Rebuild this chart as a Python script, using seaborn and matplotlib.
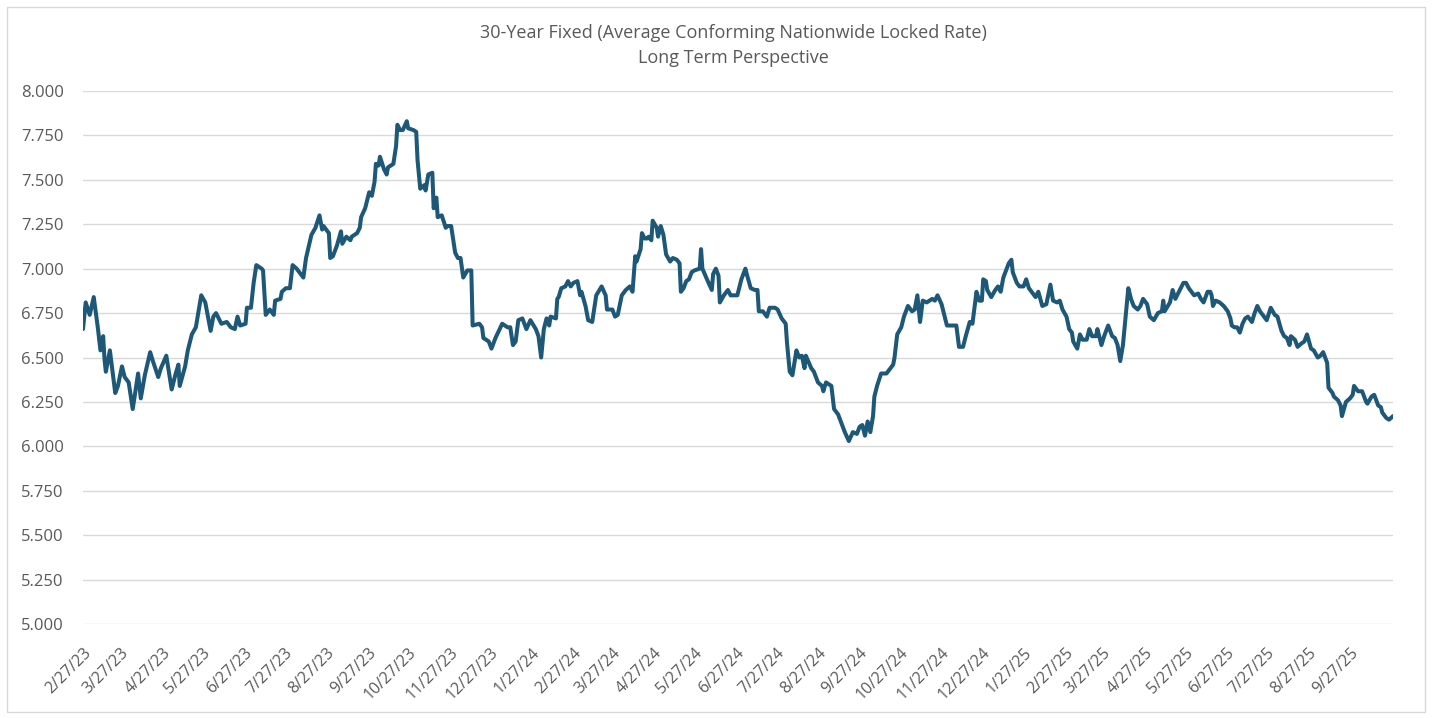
import numpy as np
import pandas as pd
import matplotlib
matplotlib.use("Agg")
import matplotlib.pyplot as plt
from matplotlib.patches import Rectangle
import seaborn as sns

title_line1 = "30-Year Fixed (Average Conforming Nationwide Locked Rate)"
title_line2 = "Long Term Perspective"

start_date = "2023-02-27"
days_after_start = [
    0, 2, 5, 8, 11, 13, 15, 16, 17, 20, 24, 26, 29, 31, 34, 37, 41, 43, 46, 50,
    52, 56, 58, 62, 66, 69, 71, 72, 76, 78, 81, 84, 88, 91, 95, 97, 99, 103, 107, 110,
    113, 115, 117, 121, 122, 125, 127, 129, 133, 134, 136, 139, 142, 143, 147, 148, 151, 154, 156, 159,
    162, 164,
    166, 170, 173, 176, 178, 179, 183, 184, 186, 189, 192, 193, 196, 199, 200, 204, 206, 207, 210, 213,
    215, 217, 218, 220, 221, 224, 226, 227, 231, 233, 234, 236, 238, 241, 242, 246, 248, 249, 251, 254,
    255, 257, 260, 261, 263, 264, 267, 270, 271, 274, 277, 279, 281, 283, 286, 289, 290, 295, 297, 298,
    302, 304, 307, 312, 316, 318, 320, 322, 324,
    327, 330, 333, 337, 339, 341, 343, 345, 347, 348, 352, 353, 354, 356, 359, 361, 363, 365, 368, 370,
    371, 374, 376, 379, 382, 386, 389, 390, 394, 396, 398, 401, 404, 407, 409, 411, 412, 415, 416, 418,
    420, 421, 423, 424, 427, 428, 430, 432, 434, 437, 439, 442, 444, 445, 447, 449, 451, 453, 455, 459,
    460, 461, 465, 468, 469, 471, 473, 474, 477, 480, 482, 487, 490, 493, 494, 497, 500, 502, 503,
    506, 509, 511, 515, 517, 520, 523, 524, 526, 528, 531, 533, 535, 537, 538, 542, 544, 547, 550, 551,
    553, 557, 559, 562, 565, 567, 570, 573, 576, 578, 580, 582, 584, 586, 588, 589, 591, 594, 598, 603,
    604, 606, 609, 611, 614, 617, 619, 621, 623, 625, 628, 632, 634, 636, 639, 641, 643, 647, 650, 652,
    655, 657, 660, 662, 665, 667,
    669, 670, 672, 673, 676, 679, 681, 683, 685, 686, 688, 689, 691, 692, 695, 697, 700, 702, 704, 707,
    709, 711, 714, 717, 720, 722, 725, 727, 729, 732, 734, 736, 737, 740, 742, 744, 747, 749, 751, 754,
    755, 758, 760, 763, 766, 768, 770, 772, 774, 776, 778, 780, 782, 785, 787, 789, 792, 794, 797, 800,
    803, 804, 805, 809, 811, 813, 815, 819,
    821, 823, 827, 830, 832, 834, 837, 839, 840, 841, 843, 846, 849, 852, 854, 855, 857, 859, 861, 863,
    865, 867, 870, 872, 874, 876, 879, 881, 884, 887, 889, 892, 894, 896, 898, 899, 902, 904, 907, 909,
    911, 914, 916, 919, 921, 923, 926, 927, 930, 931, 934, 936, 937, 940, 943, 945, 946, 949, 952, 955,
    956, 959, 961, 964, 966, 967, 970, 972, 975,
]
rates = [
    6.66, 6.81, 6.74, 6.84, 6.67, 6.54, 6.62, 6.49, 6.42, 6.54, 6.30, 6.34, 6.45, 6.39, 6.36, 6.21, 6.41, 6.27, 6.40, 6.53,
    6.48, 6.39, 6.44, 6.51, 6.32, 6.41, 6.46, 6.34, 6.45, 6.54, 6.63, 6.67, 6.85, 6.81, 6.65, 6.73, 6.75, 6.69, 6.70, 6.67,
    6.66, 6.73, 6.68, 6.69, 6.78, 6.78, 6.92, 7.02, 7.00, 6.99, 6.74, 6.77, 6.74, 6.82, 6.83, 6.87, 6.89, 6.89, 7.02, 7.00,
    6.97, 6.95,
    7.06, 7.19, 7.23, 7.30, 7.22, 7.24, 7.20, 7.06, 7.07, 7.13, 7.21, 7.14, 7.18, 7.16, 7.18, 7.20, 7.23, 7.29, 7.34, 7.43,
    7.41, 7.49, 7.59, 7.58, 7.63, 7.56, 7.53, 7.57, 7.59, 7.69, 7.81, 7.78, 7.78, 7.83, 7.79, 7.78, 7.77, 7.61, 7.45, 7.47,
    7.44, 7.53, 7.54, 7.34, 7.40, 7.29, 7.30, 7.23, 7.24, 7.24, 7.09, 7.06, 7.06, 6.95, 6.99, 6.99, 6.68, 6.69, 6.67, 6.61,
    6.59, 6.55, 6.61, 6.69, 6.67, 6.67, 6.57, 6.59, 6.71,
    6.72, 6.66, 6.71, 6.66, 6.62, 6.50, 6.66, 6.72, 6.68, 6.73, 6.72, 6.83, 6.84, 6.89, 6.90, 6.93, 6.90, 6.92, 6.93, 6.85,
    6.87, 6.79, 6.71, 6.70, 6.85, 6.90, 6.85, 6.77, 6.77, 6.73, 6.74, 6.85, 6.88, 6.90, 6.87, 7.07, 7.04, 7.11, 7.20, 7.17,
    7.17, 7.18, 7.16, 7.27, 7.23, 7.18, 7.24, 7.19, 7.08, 7.04, 7.06, 7.05, 7.03, 6.87, 6.89, 6.93, 6.94, 6.98, 6.99, 7.00,
    7.11, 7.00, 6.93, 6.88, 6.97, 7.00, 6.96, 6.81, 6.85, 6.88, 6.85, 6.85, 6.94, 7.00, 6.97, 6.89, 6.88, 6.88, 6.76,
    6.76, 6.73, 6.78, 6.78, 6.77, 6.72, 6.69, 6.58, 6.42, 6.40, 6.54, 6.50, 6.51, 6.44, 6.51, 6.44, 6.42, 6.36, 6.34, 6.31,
    6.36, 6.34, 6.21, 6.18, 6.12, 6.08, 6.03, 6.08, 6.07, 6.11, 6.12, 6.06, 6.14, 6.08, 6.17, 6.28, 6.34, 6.41, 6.41, 6.46,
    6.50, 6.63, 6.67, 6.73, 6.79, 6.76, 6.77, 6.85, 6.70, 6.82, 6.81, 6.83, 6.82, 6.85, 6.80, 6.74, 6.68, 6.68, 6.68, 6.56,
    6.56, 6.62, 6.70, 6.69, 6.87, 6.82,
    6.82, 6.94, 6.93, 6.88, 6.84, 6.88, 6.90, 6.87, 6.95, 6.97, 7.01, 7.03, 7.05, 6.98, 6.92, 6.90, 6.90, 6.94, 6.89, 6.86,
    6.84, 6.87, 6.79, 6.80, 6.91, 6.82, 6.81, 6.82, 6.77, 6.73, 6.66, 6.64, 6.59, 6.55, 6.63, 6.60, 6.60, 6.66, 6.62, 6.62,
    6.66, 6.57, 6.62, 6.68, 6.62, 6.61, 6.57, 6.48, 6.57, 6.73, 6.89, 6.83, 6.79, 6.77, 6.79, 6.83, 6.80, 6.73, 6.71, 6.75,
    6.76, 6.82, 6.76, 6.81, 6.88, 6.83, 6.86, 6.92,
    6.92, 6.89, 6.85, 6.86, 6.83, 6.81, 6.87, 6.87, 6.85, 6.79, 6.82, 6.81, 6.79, 6.76, 6.72, 6.68, 6.67, 6.67, 6.64, 6.69,
    6.72, 6.73, 6.70, 6.75, 6.79, 6.76, 6.73, 6.71, 6.78, 6.74, 6.73, 6.65, 6.62, 6.61, 6.57, 6.62, 6.60, 6.56, 6.58, 6.59,
    6.63, 6.55, 6.54, 6.50, 6.51, 6.53, 6.47, 6.33, 6.30, 6.28, 6.26, 6.23, 6.17, 6.25, 6.27, 6.29, 6.34, 6.31, 6.31, 6.25,
    6.24, 6.28, 6.29, 6.23, 6.22, 6.19, 6.16, 6.15, 6.17,
]
tick_first = "2023-02-27"
tick_last = "2025-09-27"
y_ticks = [5.0, 5.25, 5.5, 5.75, 6.0, 6.25, 6.5, 6.75, 7.0, 7.25, 7.5, 7.75, 8.0]

df = pd.DataFrame({
    "date": pd.Timestamp(start_date) + pd.to_timedelta(days_after_start, unit="D"),
    "rate": rates,
})
tick_dates = pd.date_range(tick_first, tick_last, freq=pd.DateOffset(months=1))
tick_labels = [f"{d.month}/{d.day}/{d:%y}" for d in tick_dates]

sns.set_style("white")
plt.rcParams["font.family"] = ["Open Sans", "DejaVu Sans"]

W, H = 1432, 718
fig = plt.figure(figsize=(W / 100, H / 100), dpi=100)
ax = fig.add_axes([83 / W, 1 - 624 / H, (1393 - 83) / W, (624 - 91) / H])

sns.lineplot(data=df, x="date", y="rate", color="#1d5878", linewidth=2.9, ax=ax)

ax.set_ylim(5, 8)
ax.set_yticks(y_ticks)
ax.set_yticklabels([f"{v:.3f}" for v in y_ticks])
ax.set_xlim(df["date"].min(), df["date"].max())
ax.set_xticks(tick_dates)
ax.set_xticklabels(tick_labels, rotation=45, ha="right", rotation_mode="anchor")
ax.set_xlabel("")
ax.set_ylabel("")

ax.grid(axis="y", color="#d9d9d9", linewidth=1)
ax.grid(axis="x", visible=False)
ax.set_axisbelow(True)
for spine in ax.spines.values():
    spine.set_visible(False)
ax.tick_params(axis="y", length=0, colors="#595959", labelsize=12, pad=14)
ax.tick_params(axis="x", length=0, colors="#595959", labelsize=11.5, pad=15)

fig.text(733 / W, 1 - 33 / H, title_line1, ha="center", va="center", fontsize=13, color="#595959")
fig.text(733 / W, 1 - 58 / H, title_line2, ha="center", va="center", fontsize=13, color="#595959")

fig.patches.append(Rectangle((7 / W, 6 / H), (1425 - 7) / W, (712 - 7) / H,
                             transform=fig.transFigure, fill=False,
                             edgecolor="#d9d9d9", linewidth=1))

fig.savefig("out.png", dpi=100)
